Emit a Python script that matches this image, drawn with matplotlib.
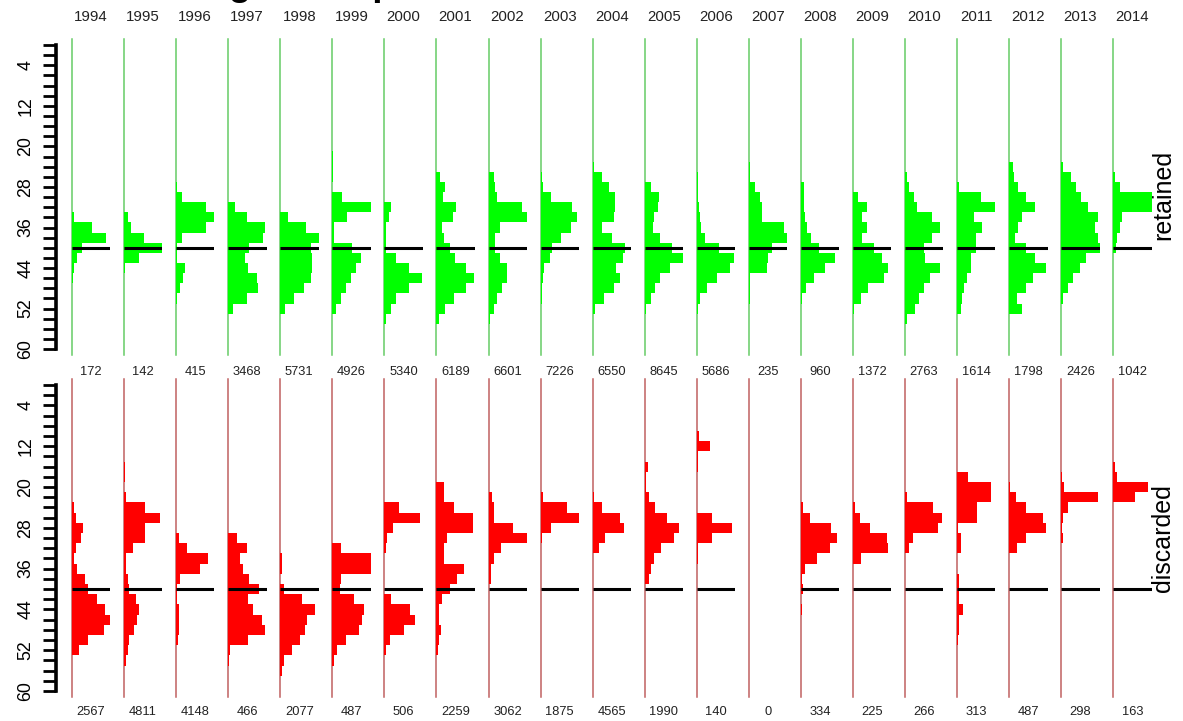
import matplotlib.pyplot as plt

plt.rcParams['font.family'] = ['Liberation Sans', 'DejaVu Sans']

# years and sample sizes
years = list(range(1994, 2015))
n_retained = [172, 142, 415, 3468, 5731, 4926, 5340, 6189, 6601, 7226, 6550,
              8645, 5686, 235, 960, 1372, 2763, 1614, 1798, 2426, 1042]
n_discarded = [2567, 4811, 4148, 466, 2077, 487, 506, 2259, 3062, 1875, 4565,
               1990, 140, 0, 334, 225, 266, 313, 487, 298, 163]

# relative frequency (% of column width) by 2 cm length bin (bin centre: value)
retained_freq = [
    {34: 6, 36: 52, 38: 88, 40: 26, 42: 12, 44: 4, 46: 3, 48: 1},
    {34: 9, 36: 17, 38: 52, 40: 100, 42: 39, 44: 2, 46: 1},
    {28: 3, 30: 14, 32: 78, 34: 100, 36: 78, 38: 16, 40: 3, 42: 1, 44: 23, 46: 19, 48: 11, 50: 3},
    {32: 19, 34: 50, 36: 96, 38: 91, 40: 55, 42: 45, 44: 52, 46: 74, 48: 78, 50: 48, 52: 13},
    {34: 20, 36: 67, 38: 100, 40: 80, 42: 84, 44: 83, 46: 80, 48: 62, 50: 35, 52: 13},
    {22: 3, 24: 3, 26: 2, 30: 24, 32: 100, 34: 39, 36: 4, 38: 4, 40: 52, 42: 74, 44: 61, 46: 48, 48: 35, 50: 22, 52: 9},
    {32: 16, 34: 11, 36: 5, 38: 3, 40: 5, 42: 29, 44: 63, 46: 98, 48: 63, 50: 29, 52: 16, 54: 3},
    {26: 10, 28: 22, 30: 17, 32: 52, 34: 43, 36: 15, 38: 19, 40: 35, 42: 48, 44: 76, 46: 97, 48: 76, 50: 45, 52: 23, 54: 6},
    {26: 13, 28: 16, 30: 22, 32: 87, 34: 100, 36: 30, 38: 17, 40: 17, 42: 30, 44: 48, 46: 48, 48: 35, 50: 22, 52: 13, 54: 4},
    {26: 3, 28: 5, 30: 26, 32: 83, 34: 96, 36: 78, 38: 52, 40: 30, 42: 24, 44: 9, 46: 6, 48: 4, 50: 3, 52: 2},
    {24: 3, 26: 24, 28: 42, 30: 59, 32: 59, 34: 55, 36: 24, 38: 50, 40: 85, 42: 80, 44: 60, 46: 72, 48: 55, 50: 29, 52: 7, 54: 2},
    {28: 15, 30: 37, 32: 35, 34: 25, 36: 22, 38: 41, 40: 71, 42: 100, 44: 67, 46: 41, 48: 28, 50: 15, 52: 3},
    {26: 2, 28: 3, 30: 4, 32: 6, 34: 9, 36: 12, 38: 22, 40: 57, 42: 97, 44: 87, 46: 52, 48: 26, 50: 9, 52: 3},
    {24: 3, 26: 2, 28: 17, 30: 30, 32: 35, 34: 35, 36: 91, 38: 100, 40: 61, 42: 50, 44: 48, 46: 4, 48: 3, 50: 2},
    {28: 8, 30: 8, 32: 9, 34: 10, 36: 17, 38: 25, 40: 46, 42: 90, 44: 64, 46: 33, 48: 12, 50: 3},
    {30: 13, 32: 37, 34: 23, 36: 37, 38: 24, 40: 55, 42: 75, 44: 92, 46: 80, 48: 40, 50: 22, 52: 3},
    {26: 4, 28: 10, 30: 22, 32: 30, 34: 70, 36: 91, 38: 70, 40: 48, 42: 52, 44: 91, 46: 65, 48: 48, 50: 35, 52: 26, 54: 4},
    {28: 4, 30: 61, 32: 100, 34: 43, 36: 65, 38: 48, 40: 48, 42: 37, 44: 35, 46: 26, 48: 17, 50: 13, 52: 9},
    {24: 9, 26: 12, 28: 23, 30: 43, 32: 67, 34: 33, 36: 23, 38: 15, 40: 45, 42: 67, 44: 97, 46: 63, 48: 45, 50: 19, 52: 32},
    {24: 4, 26: 26, 28: 39, 30: 52, 32: 70, 34: 96, 36: 87, 38: 96, 40: 100, 42: 65, 44: 48, 46: 30, 48: 17, 50: 4},
    {26: 4, 28: 17, 30: 100, 32: 100, 34: 22, 36: 17, 38: 9, 40: 6},
]

discarded_freq = [
    {24: 4, 26: 11, 28: 30, 30: 23, 32: 11, 34: 6, 36: 13, 38: 35, 40: 43, 42: 65, 44: 87, 46: 98, 48: 84, 50: 41, 52: 17},
    {16: 3, 18: 3, 22: 4, 24: 54, 26: 94, 28: 54, 30: 54, 32: 24, 34: 4, 36: 4, 38: 9, 40: 13, 42: 30, 44: 39, 46: 33, 48: 26, 50: 13, 52: 9, 54: 4},
    {30: 7, 32: 29, 34: 83, 36: 63, 38: 11, 40: 2, 42: 2, 44: 7, 46: 7, 48: 7, 50: 4},
    {30: 22, 32: 50, 34: 30, 36: 39, 38: 55, 40: 81, 42: 52, 44: 65, 46: 87, 48: 96, 50: 52, 52: 4, 54: 2},
    {34: 4, 36: 4, 40: 9, 42: 57, 44: 91, 46: 70, 48: 65, 50: 52, 52: 30, 54: 9, 56: 4},
    {32: 22, 34: 100, 36: 100, 38: 22, 40: 20, 42: 57, 44: 83, 46: 78, 48: 70, 50: 35, 52: 13, 54: 4},
    {24: 37, 26: 94, 28: 23, 30: 7, 32: 3, 42: 16, 44: 68, 46: 81, 48: 52, 50: 14, 52: 5},
    {20: 19, 22: 19, 24: 45, 26: 96, 28: 96, 30: 28, 32: 19, 34: 19, 36: 71, 38: 54, 40: 35, 42: 15, 44: 6, 46: 6, 48: 12, 50: 6, 52: 4},
    {22: 9, 24: 13, 26: 13, 28: 63, 30: 100, 32: 32, 34: 13, 36: 6, 38: 6},
    {22: 7, 24: 70, 26: 100, 28: 28, 30: 4},
    {22: 4, 24: 24, 26: 72, 28: 83, 30: 33, 32: 16},
    {16: 9, 18: 3, 20: 3, 22: 12, 24: 28, 26: 58, 28: 89, 30: 76, 32: 43, 34: 23, 36: 16, 38: 12},
    {10: 6, 12: 35, 14: 4, 16: 3, 26: 39, 28: 91, 30: 39, 32: 4, 34: 3},
    {},
    {24: 5, 26: 24, 28: 78, 30: 94, 32: 77, 34: 42, 36: 11, 38: 3, 40: 5, 42: 1, 44: 3},
    {24: 5, 26: 17, 28: 45, 30: 88, 32: 92, 34: 20},
    {22: 4, 24: 74, 26: 96, 28: 87, 30: 20, 32: 9},
    {18: 28, 20: 87, 22: 87, 24: 52, 26: 52, 28: 2, 30: 9, 32: 9, 38: 4, 40: 5, 42: 4, 44: 15, 46: 4, 48: 4, 50: 3},
    {20: 3, 22: 17, 24: 45, 26: 89, 28: 96, 30: 45, 32: 19},
    {18: 3, 20: 6, 22: 96, 24: 17, 26: 4, 28: 3, 30: 5},
    {16: 4, 18: 10, 20: 90, 22: 57},
]

min_size = 40
tick_pos = list(range(0, 62, 2))
tick_lab = list(range(4, 61, 8))

W, H = 1183, 721
fig = plt.figure(figsize=(W / 100, H / 100), dpi=100)


def px_axes(left, top, width, height):
    return fig.add_axes([left / W, 1 - (top + height) / H, width / W, height / H])


# panel geometry in pixels: top of region, px per cm, colours, label, data, count row y, label y
panels = [
    (38.9, 5.07, '#00FF00', '#66CC66', 'retained', retained_freq, n_retained, 372, 195),
    (378.9, 5.10, '#FF0000', '#C06060', 'discarded', discarded_freq, n_discarded, 712, 538),
]
ylo, yhi = -1.2, 61.2

for top, scale, fill, vcol, name, freqs, counts, cy, ly in panels:
    height = (yhi - ylo) * scale

    # y axis on the left
    axl = px_axes(56, top, 1, height)
    axl.set_ylim(yhi, ylo)
    axl.set_xlim(0, 1)
    for s in ['top', 'right', 'bottom']:
        axl.spines[s].set_visible(False)
    axl.spines['left'].set_linewidth(2.6)
    axl.spines['left'].set_bounds(0, 60)
    axl.set_xticks([])
    axl.set_yticks(tick_lab)
    axl.set_yticks([t for t in tick_pos if t not in tick_lab], minor=True)
    axl.set_yticklabels([str(t) for t in tick_lab], rotation=90, va='center', fontsize=12.8)
    axl.tick_params(axis='y', which='both', length=9.5, width=2.0, direction='out', pad=6)
    axl.patch.set_alpha(0)

    for i, yr in enumerate(years):
        x0 = 72 + i * 52.07
        ax = px_axes(x0, top, 38.3, height)
        ax.set_xlim(0, 100)
        ax.set_ylim(yhi, ylo)
        ax.axis('off')
        ax.axvline(0, color=vcol, lw=1.1, clip_on=False, zorder=1)
        d = freqs[i]
        if d:
            ax.barh(list(d.keys()), list(d.values()), height=2, left=0,
                    color=fill, edgecolor='none', zorder=2)
        if counts[i] > 0:
            ax.hlines(min_size, 0, 100, color='black', lw=2.2, zorder=3)

        cx = (x0 + 19) / W
        fig.text(cx, 1 - cy / H, str(counts[i]), fontsize=9.3, ha='center', va='center', color='#222222')
        if name == 'retained':
            fig.text(cx, 1 - 17 / H, str(yr), fontsize=10.8, ha='center', va='center', color='#222222')

    fig.text(1163 / W, 1 - ly / H, name, rotation=90, fontsize=18, ha='center', va='center')

# title: in the original only the bottoms of the letters show at the top edge
fig.text(163 / W, 1 + 5 / H, 'Length composition of retained and discarded',
         fontsize=26.6, fontweight='bold', ha='left', va='baseline')

fig.savefig('out.png', dpi=100)
